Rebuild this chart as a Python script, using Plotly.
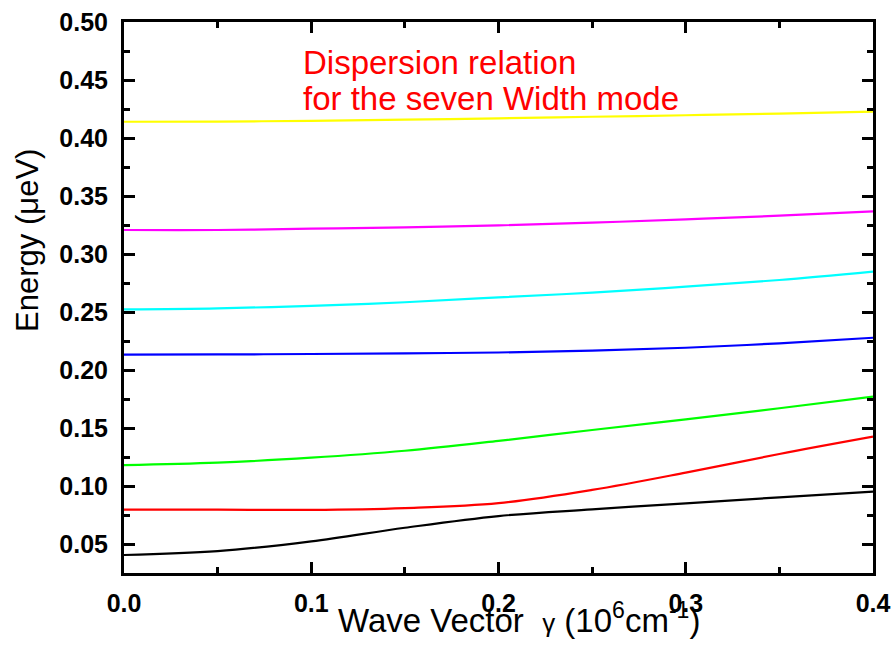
import plotly.graph_objects as go

gamma = [0.0, 0.05, 0.10, 0.15, 0.20, 0.25, 0.30, 0.35, 0.40]

mode1 = [0.0405, 0.0438, 0.0523, 0.0640, 0.0741, 0.0799, 0.0851, 0.0902, 0.0952]
mode2 = [0.0797, 0.0796, 0.0794, 0.0810, 0.0852, 0.0966, 0.1115, 0.1276, 0.1425]
mode3 = [0.1180, 0.1201, 0.1244, 0.1304, 0.1389, 0.1483, 0.1575, 0.1670, 0.1770]
mode4 = [0.2132, 0.2134, 0.2138, 0.2144, 0.2151, 0.2167, 0.2192, 0.2230, 0.2278]
mode5 = [0.2523, 0.2532, 0.2552, 0.2584, 0.2626, 0.2667, 0.2718, 0.2776, 0.2848]
mode6 = [0.3207, 0.3207, 0.3218, 0.3230, 0.3247, 0.3270, 0.3299, 0.3330, 0.3368]
mode7 = [0.4140, 0.4142, 0.4148, 0.4158, 0.4170, 0.4183, 0.4196, 0.4210, 0.4227]

modes = [mode1, mode2, mode3, mode4, mode5, mode6, mode7]
colors = ["#000000", "#FF0000", "#00FF00", "#0000FF", "#00FFFF", "#FF00FF", "#FFFF00"]

x_ticks = [0.0, 0.1, 0.2, 0.3, 0.4]
x_ticklabels = ["0.0", "0.1", "0.2", "0.3", "0.4"]
y_ticks = [0.05, 0.10, 0.15, 0.20, 0.25, 0.30, 0.35, 0.40, 0.45, 0.50]
y_ticklabels = ["0.05", "0.10", "0.15", "0.20", "0.25", "0.30", "0.35", "0.40", "0.45", "0.50"]

fig = go.Figure()
for ys, c in zip(modes, colors):
    fig.add_trace(go.Scatter(x=gamma, y=ys, mode="lines",
                             line=dict(color=c, width=2.2, shape="spline", smoothing=1.0),
                             showlegend=False, hoverinfo="skip"))

axis_common = dict(
    showline=True, linecolor="black", linewidth=3, mirror="ticks",
    ticks="inside", ticklen=11, tickwidth=2.5, tickcolor="black",
    showgrid=False, zeroline=False, automargin=False,
    tickfont=dict(family="Liberation Sans, Arial", size=25, color="black", weight="bold"),
)

fig.update_xaxes(range=[0.0, 0.4], tickvals=x_ticks, ticktext=x_ticklabels,
                 minor=dict(ticks="inside", ticklen=6, tickwidth=2.5, tickcolor="black", dtick=0.05, tick0=0),
                 ticklabelstandoff=6, **axis_common)
fig.update_yaxes(range=[0.025, 0.5], tickvals=y_ticks, ticktext=y_ticklabels,
                 minor=dict(ticks="inside", ticklen=6, tickwidth=2.5, tickcolor="black", dtick=0.025, tick0=0.025),
                 ticklabelstandoff=8, **axis_common)

fig.add_annotation(xref="paper", yref="paper", x=0.528, y=-0.04, xanchor="center", yanchor="top",
                   text="Wave Vector  <span style='font-size:26px'>γ</span> (10<sup>6</sup>cm<sup>-1</sup>)",
                   showarrow=False,
                   font=dict(family="Liberation Sans, Arial", size=33, color="black"))
fig.add_annotation(xref="paper", yref="paper", x=-0.128, y=0.603, xanchor="center", yanchor="middle",
                   text="Energy (μeV)", textangle=-90, showarrow=False,
                   font=dict(family="Liberation Sans, Arial", size=31, color="black"))
fig.add_annotation(xref="paper", yref="paper", x=0.236, y=0.9256, xanchor="left", yanchor="middle",
                   text="Dispersion relation", align="left",
                   showarrow=False,
                   font=dict(family="Liberation Sans, Arial", size=33, color="#FF0000"))
fig.add_annotation(xref="paper", yref="paper", x=0.236, y=0.862, xanchor="left", yanchor="middle",
                   text="for the seven Width mode", align="left",
                   showarrow=False,
                   font=dict(family="Liberation Sans, Arial", size=33, color="#FF0000"))

fig.update_layout(
    width=894, height=650,
    margin=dict(l=124, r=21, t=22, b=77),
    paper_bgcolor="white", plot_bgcolor="white",
)

fig.write_html("out.html")
